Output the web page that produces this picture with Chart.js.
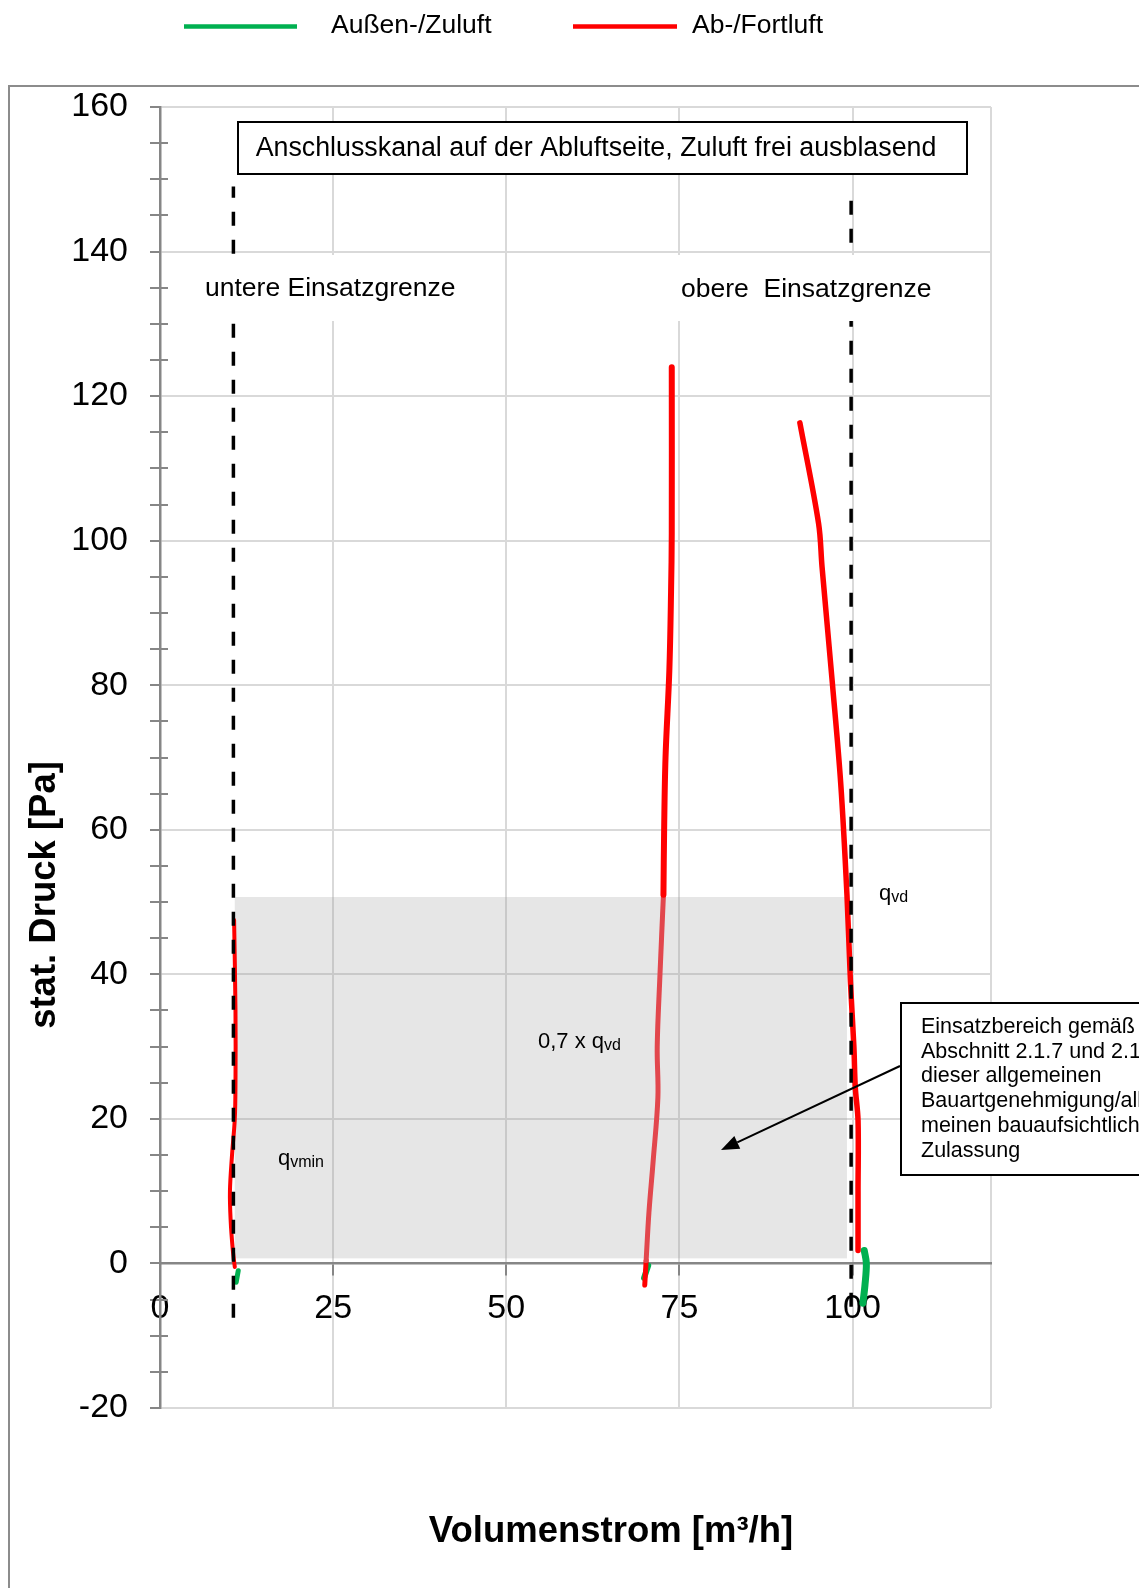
<!DOCTYPE html>
<html>
<head>
<meta charset="utf-8">
<script src="https://cdn.jsdelivr.net/npm/chart.js@4.4.1/dist/chart.umd.min.js"></script>
<style>
  html, body { margin: 0; padding: 0; background: #fff; }
  #wrap { position: relative; width: 1139px; height: 1588px; }
</style>
</head>
<body>
<div id="wrap"><canvas id="chart"></canvas></div>
<script>
// [Volumenstrom m³/h, stat. Druck Pa]
const zuluftLow  = [[11.3, -1.0], [11.0, -2.6]];
const zuluftMid  = [[70.5, -0.3], [69.9, -2.0]];
const zuluftHigh = [[101.7, 1.8], [102.0, 0.0], [101.8, -3.0], [101.5, -5.5]];

const abluftLow     = [[10.7, 47.5], [10.9, 35], [10.9, 25], [10.8, 20], [10.4, 15], [10.1, 10], [10.2, 6], [10.5, 2], [10.8, -0.5]];
const abluftMidTop  = [[73.9, 124], [73.9, 101], [73.8, 93], [73.55, 82], [73.0, 70], [72.8, 60], [72.7, 51]];
const abluftMidZone = [[72.7, 51], [72.2, 40], [71.8, 30], [71.9, 23], [71.2, 14], [70.6, 7], [70.2, 0.4]];
const abluftMidEnd  = [[70.2, 0.4], [70.0, -3.0]];
const abluftHigh    = [[92.4, 116.3], [95.1, 102.4], [95.6, 96.4], [97.1, 80.2], [98.3, 66.4], [99.2, 51], [99.7, 39], [100.2, 30], [100.4, 24.4], [100.8, 19.8], [100.8, 10], [100.8, 1.8]];

// Einsatzgrenzen and shaded Einsatzbereich
const grenzeUnten = [[10.6, -7.5], [10.6, 149]];
const grenzeOben  = [[99.8, -6], [99.8, 147.5]];
const zoneX = [10.8, 99.2];
const zoneY = [0.7, 50.7];

// axes
const xTicks = [0, 25, 50, 75, 100, 120];
const xLabels = [0, 25, 50, 75, 100];
const yMin = -20, yMax = 160, yMajor = 20, yMinor = 5;

const seriesNames = ['Außen-/Zuluft', 'Ab-/Fortluft'];
const GREEN = '#00b050';
const RED = '#ff0000';
const FONT = '"Liberation Sans", Arial, sans-serif';

const toXY = pts => pts.map(([x, y]) => ({ x, y }));

function curve(label, data, color, width, order, extra) {
    return Object.assign({
        label,
        data: toXY(data),
        borderColor: color,
        backgroundColor: color,
        borderWidth: width,
        showLine: true,
        pointRadius: 0,
        pointHoverRadius: 0,
        tension: 0.35,
        fill: false,
        borderCapStyle: 'round',
        borderJoinStyle: 'round',
        order
    }, extra || {});
}

const dashed = { tension: 0, borderDash: [14, 14], borderCapStyle: 'butt' };

const datasets = [
    curve(seriesNames[0], zuluftLow, GREEN, 5, 3),
    curve(seriesNames[0], zuluftMid, GREEN, 6, 3),
    curve(seriesNames[0], zuluftHigh, GREEN, 7, 3),
    curve(seriesNames[1], abluftLow, RED, 4, 2),
    curve(seriesNames[1], abluftMidTop, RED, 6, 2),
    curve(seriesNames[1], abluftMidZone, '#e2474d', 5, 2),
    curve(seriesNames[1], abluftMidEnd, RED, 5, 2),
    curve(seriesNames[1], abluftHigh, RED, 5.5, 2),
    curve('untere Einsatzgrenze', grenzeUnten, '#000', 3.5, 1, dashed),
    curve('obere Einsatzgrenze', grenzeOben, '#000', 3.5, 1, dashed)
];

function subText(ctx, x, y, main, sub) {
    ctx.font = '22px ' + FONT;
    ctx.fillText(main, x, y);
    const w = ctx.measureText(main).width;
    ctx.font = '16px ' + FONT;
    ctx.fillText(sub, x + w, y + 1.5);
}

const overlay = {
    id: 'overlay',
    beforeDraw(chart) {
        const { ctx } = chart;
        ctx.save();
        // outer frame
        ctx.strokeStyle = '#8c8c8c';
        ctx.lineWidth = 2;
        ctx.beginPath();
        ctx.moveTo(9, chart.height + 5);
        ctx.lineTo(9, 86);
        ctx.lineTo(chart.width + 5, 86);
        ctx.stroke();

        // legend
        const items = [
            { name: seriesNames[0], color: GREEN, x0: 184, x1: 297, tx: 331 },
            { name: seriesNames[1], color: RED, x0: 573, x1: 677, tx: 692 }
        ];
        ctx.font = '26.5px ' + FONT;
        ctx.fillStyle = '#000';
        ctx.textBaseline = 'alphabetic';
        items.forEach(it => {
            ctx.strokeStyle = it.color;
            ctx.lineWidth = 4.5;
            ctx.beginPath();
            ctx.moveTo(it.x0, 26.5);
            ctx.lineTo(it.x1, 26.5);
            ctx.stroke();
            ctx.fillText(it.name, it.tx, 33);
        });
        ctx.restore();
    },
    beforeDatasetsDraw(chart) {
        const { ctx, scales: { x, y } } = chart;
        ctx.save();
        ctx.fillStyle = 'rgba(150,150,150,0.24)';
        const left = x.getPixelForValue(zoneX[0]);
        const right = x.getPixelForValue(zoneX[1]);
        const top = y.getPixelForValue(zoneY[1]);
        const bottom = y.getPixelForValue(zoneY[0]);
        ctx.fillRect(left, top, right - left, bottom - top);

        // minor ticks crossing into the plot
        ctx.strokeStyle = '#868686';
        ctx.lineWidth = 2;
        ctx.beginPath();
        for (let v = yMin; v <= yMax; v += yMinor) {
            if (v % yMajor === 0) continue;
            const py = Math.round(y.getPixelForValue(v));
            ctx.moveTo(x.left, py);
            ctx.lineTo(x.left + 8, py);
        }
        ctx.stroke();
        ctx.restore();
    },
    afterDatasetsDraw(chart) {
        const { ctx } = chart;
        ctx.save();

        // title box
        ctx.fillStyle = '#fff';
        ctx.fillRect(238, 122, 729, 52);
        ctx.strokeStyle = '#000';
        ctx.lineWidth = 2;
        ctx.strokeRect(238, 122, 729, 52);
        ctx.fillStyle = '#000';
        ctx.font = '26.8px ' + FONT;
        ctx.textAlign = 'center';
        ctx.textBaseline = 'middle';
        ctx.fillText('Anschlusskanal auf der Abluftseite, Zuluft frei ausblasend', 596, 149);

        // Einsatzgrenze labels with white background
        ctx.textAlign = 'left';
        ctx.fillStyle = '#fff';
        ctx.fillRect(199, 255, 264, 66);
        ctx.fillRect(675, 255, 266, 66);
        ctx.fillStyle = '#000';
        ctx.font = '26.5px ' + FONT;
        ctx.fillText('untere Einsatzgrenze', 205, 288.5);
        ctx.fillText('obere  Einsatzgrenze', 681, 289.5);

        // q labels
        ctx.textBaseline = 'alphabetic';
        subText(ctx, 278, 1165, 'q', 'vmin');
        subText(ctx, 538, 1048, '0,7 x q', 'vd');
        subText(ctx, 879, 900, 'q', 'vd');

        // annotation box
        ctx.fillStyle = '#fff';
        ctx.fillRect(901, 1003, 300, 172);
        ctx.strokeStyle = '#000';
        ctx.lineWidth = 2;
        ctx.strokeRect(901, 1003, 300, 172);
        ctx.fillStyle = '#000';
        ctx.font = '21.5px ' + FONT;
        const lines = ['Einsatzbereich gemäß', 'Abschnitt 2.1.7 und 2.1.8', 'dieser allgemeinen',
            'Bauartgenehmigung/allge-', 'meinen bauaufsichtlichen', 'Zulassung'];
        lines.forEach((t, i) => ctx.fillText(t, 921, 1033 + i * 24.7));

        // arrow
        const x0 = 900, y0 = 1066, x1 = 721, y1 = 1150;
        const ang = Math.atan2(y1 - y0, x1 - x0);
        const hl = 18, hw = 7;
        const bx = x1 - hl * Math.cos(ang), by = y1 - hl * Math.sin(ang);
        ctx.lineWidth = 2;
        ctx.beginPath();
        ctx.moveTo(x0, y0);
        ctx.lineTo(bx, by);
        ctx.stroke();
        ctx.beginPath();
        ctx.moveTo(x1, y1);
        ctx.lineTo(bx + hw * Math.sin(ang), by - hw * Math.cos(ang));
        ctx.lineTo(bx - hw * Math.sin(ang), by + hw * Math.cos(ang));
        ctx.closePath();
        ctx.fill();
        ctx.restore();
    },
    afterDraw(chart) {
        const { ctx } = chart;
        ctx.save();
        ctx.fillStyle = '#000';
        ctx.font = 'bold 36.5px ' + FONT;
        ctx.textAlign = 'center';
        ctx.textBaseline = 'middle';
        ctx.fillText('Volumenstrom [m³/h]', 611, 1532);
        ctx.translate(45, 895);
        ctx.rotate(-Math.PI / 2);
        ctx.fillText('stat. Druck [Pa]', 0, 0);
        ctx.restore();
    }
};

new Chart(document.getElementById('chart'), {
    type: 'scatter',
    data: { datasets },
    options: {
        responsive: true,
        maintainAspectRatio: false,
        animation: false,
        layout: { padding: { left: 0, top: 107, right: 148, bottom: 180 } },
        plugins: {
            legend: { display: false },
            tooltip: { enabled: false }
        },
        scales: {
            x: {
                type: 'linear',
                min: 0,
                max: 120,
                position: { y: 0 },
                afterBuildTicks: s => { s.ticks = xTicks.map(v => ({ value: v })); },
                ticks: {
                    autoSkip: false,
                    maxRotation: 0,
                    padding: 14,
                    color: '#000',
                    font: { size: 34, family: FONT },
                    callback: v => xLabels.includes(v) ? String(v) : ''
                },
                grid: {
                    color: c => c.tick && c.tick.value === 0 ? '#868686' : '#d9d9d9',
                    lineWidth: 2,
                    tickLength: 11,
                    tickWidth: 2,
                    tickColor: c => c.tick && c.tick.value === 120 ? 'rgba(0,0,0,0)' : '#868686'
                },
                border: { color: '#868686', width: 2.5 }
            },
            y: {
                type: 'linear',
                min: yMin,
                max: yMax,
                afterFit: s => { s.width = 160; },
                ticks: {
                    stepSize: yMinor,
                    autoSkip: false,
                    padding: 22,
                    color: '#000',
                    font: { size: 34, family: FONT },
                    callback: v => v % yMajor === 0 ? String(v) : ''
                },
                grid: {
                    color: c => {
                        if (!c.tick) return 'rgba(0,0,0,0)';
                        if (c.tick.value === 0) return '#868686';
                        return c.tick.value % yMajor === 0 ? '#d9d9d9' : 'rgba(0,0,0,0)';
                    },
                    lineWidth: 2,
                    tickLength: 10,
                    tickWidth: 2,
                    tickColor: '#868686'
                },
                border: { color: '#868686', width: 2.5 }
            }
        }
    },
    plugins: [overlay]
});
</script>
</body>
</html>
